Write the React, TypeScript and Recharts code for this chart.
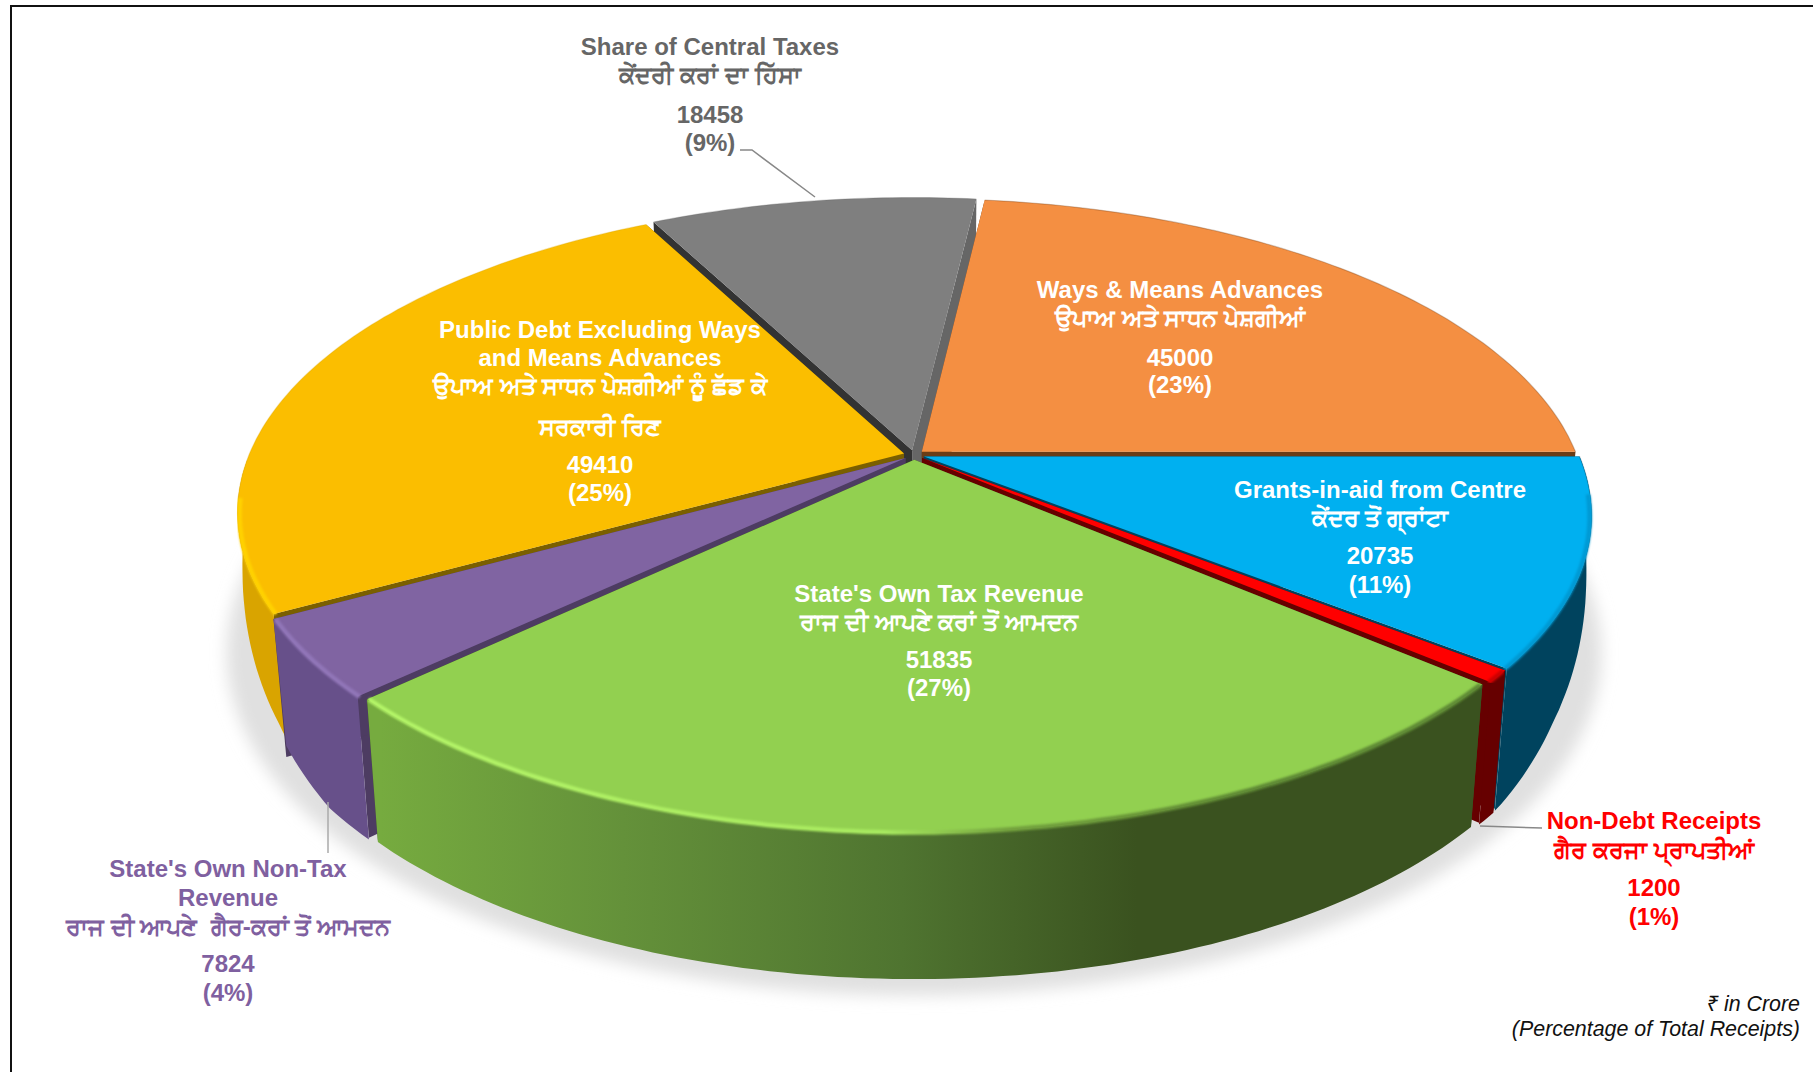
import React from 'react';
import { PieChart, Pie } from 'recharts';

const SLICE_NAMES = [
    'Share of Central Taxes',
    'Ways & Means Advances',
    'Grants-in-aid from Centre',
    'Non-Debt Receipts',
    "State's Own Tax Revenue",
    "State's Own Non-Tax Revenue",
    'Public Debt Excluding Ways and Means Advances',
];
const SLICE_VALUES = [18458, 45000, 20735, 1200, 51835, 7824, 49410];
const SLICE_SHARES = ['(9%)', '(23%)', '(11%)', '(1%)', '(27%)', '(4%)', '(25%)'];
const NAME_LINES = [
    ['Share of Central Taxes', 'ਕੇਂਦਰੀ ਕਰਾਂ ਦਾ ਹਿੱਸਾ'],
    ['Ways & Means Advances', 'ਉਪਾਅ ਅਤੇ ਸਾਧਨ ਪੇਸ਼ਗੀਆਂ'],
    ['Grants-in-aid from Centre', 'ਕੇਂਦਰ ਤੋਂ ਗ੍ਰਾਂਟਾ'],
    ['Non-Debt Receipts', 'ਗੈਰ ਕਰਜਾ ਪ੍ਰਾਪਤੀਆਂ'],
    ["State's Own Tax Revenue", 'ਰਾਜ ਦੀ ਆਪਣੇ ਕਰਾਂ ਤੋਂ ਆਮਦਨ'],
    ["State's Own Non-Tax", 'Revenue', 'ਰਾਜ ਦੀ ਆਪਣੇ  ਗੈਰ-ਕਰਾਂ ਤੋਂ ਆਮਦਨ'],
    ['Public Debt Excluding Ways', 'and Means Advances', 'ਉਪਾਅ ਅਤੇ ਸਾਧਨ ਪੇਸ਼ਗੀਆਂ ਨੂੰ ਛੱਡ ਕੇ', 'ਸਰਕਾਰੀ ਰਿਣ'],
];
const UNIT_NOTES = ['₹ in Crore', '(Percentage of Total Receipts)'];

// painter's order, back of the pie first
const DRAW_ORDER = [0, 1, 6, 2, 5, 3, 4];

const TOP_COLORS = ['#7f7f7f', '#f48f42', '#00b0f0', '#ff0000', '#92d050', '#8064a2', '#fbbe00'];
const WALL_COLORS = ['#666666', '#6b3d17', '#00435e', '#660000', '#3a521f', '#67508a', '#d9a400'];
const START_WALL_COLORS = ['#333333', '#6b3d17', '#00435e', '#660000', '#3a521f', '#4d3c62', '#7a5f00'];
const END_WALL_COLORS = ['#666666', '#6b3d17', '#00435e', '#660000', '#3a521f', '#4d3c62', '#7a5f00'];
const RIM_COLORS = ['#7f7f7f', '#d9813c', '#009ad4', '#cc0000', '#5f8a34', '#9176b8', '#ffd200'];
const LABEL_COLORS = ['#666666', '#ffffff', '#ffffff', '#ff0000', '#ffffff', '#7f60a0', '#ffffff'];
const LABEL_X = [710, 1180, 1380, 1654, 939, 228, 600];
const LABEL_YS = [
    [46, 74, 114, 142],
    [289, 317, 357, 384],
    [489, 517, 555, 584],
    [820, 849, 887, 916],
    [593, 621, 659, 687],
    [868, 897, 926, 963, 992],
    [329, 357, 385, 426, 464, 492],
];

const CX = 914;
const CY = 455;
const RADIUS = 655;
const TILT = 301.5;
const PERSPECTIVE = 0.1865;
const EXPLODE = 0.016;
const START_ANGLE = 117.5;
const FONT = '"Liberation Sans", Arial, "Noto Sans", sans-serif';

const pieData = SLICE_NAMES.map((name, i) => ({ name, value: SLICE_VALUES[i] }));
const shadowData = [{ name: 'shadow', value: SLICE_VALUES.reduce((a, b) => a + b, 0) }];

// unit-disc point to screen, on the top face
const project = (cx: number, cy: number, r: number, x: number, y: number) => {
    const k = 1 / (1 + PERSPECTIVE * y);
    return [cx + r * x * k, cy - TILT * y * k];
};

// bottom edge of a wall under a top-face point: straight walls for the radial sides
const dropRadial = (cx: number, p: number[], y: number) => [cx + (p[0] - cx) * 0.98, p[1] + 130 - 16 * y];

// the outer wall gets shallower towards the sides of the pie
const dropOuter = (cx: number, p: number[], y: number) => {
    const front = Math.max(0, -y);
    const drop = front > 0.62 ? 142 + (front - 0.62) * 10.5 : 142 * Math.sqrt(front / 0.62);
    const shrink = 0.02 * Math.min(1, front / 0.45);
    return [cx + (p[0] - cx) * (1 - shrink), p[1] + drop];
};

const toPath = (points: number[][], close = true) =>
    points.map((p, i) => `${i ? 'L' : 'M'}${p[0].toFixed(1)} ${p[1].toFixed(1)}`).join(' ') + (close ? ' Z' : '');

const Slice3D = (props: any) => {
    const { cx, cy, outerRadius, startAngle, endAngle, name } = props;
    const i = SLICE_NAMES.indexOf(name);
    const midRad = ((startAngle + endAngle) / 2) * Math.PI / 180;
    const ox = EXPLODE * Math.cos(midRad);
    const oy = EXPLODE * Math.sin(midRad);
    const unitY = (angle: number, rr = 1) => oy + rr * Math.sin(angle * Math.PI / 180);
    const at = (angle: number, rr = 1) =>
        project(cx, cy, outerRadius, ox + rr * Math.cos(angle * Math.PI / 180), unitY(angle, rr));
    const steps = Math.max(2, Math.ceil(Math.abs(startAngle - endAngle)));
    const angles = Array.from({ length: steps + 1 }, (_, s) => startAngle + (endAngle - startAngle) * s / steps);
    const frontAngles = angles.filter(a => unitY(a) < 0);
    const rimAngles = frontAngles.filter(a => unitY(a) < -0.12);

    const apexTop = project(cx, cy, outerRadius, ox, oy);
    const apexBottom = dropRadial(cx, apexTop, oy);
    const top = [apexTop, ...angles.map(a => at(a))];
    const startWall = [apexTop, at(startAngle), dropRadial(cx, at(startAngle), unitY(startAngle)), apexBottom];
    const endWall = [apexTop, at(endAngle), dropRadial(cx, at(endAngle), unitY(endAngle)), apexBottom];
    const wall = [
        ...frontAngles.map(a => at(a)),
        ...frontAngles.slice().reverse().map(a => dropOuter(cx, at(a), unitY(a))),
    ];
    const rim = rimAngles.map(a => {
        const p = at(a, 0.997);
        return [p[0], p[1] + 1];
    });
    const edge = angles.map(a => at(a));

    const isGreen = i === 4;
    return (
        <g>
            <defs>
                <linearGradient id="greenWall" gradientUnits="userSpaceOnUse" x1="380" y1="0" x2="1250" y2="0">
                    <stop offset="0" stopColor="#76ab3f" />
                    <stop offset="0.28" stopColor="#64913a" />
                    <stop offset="0.6" stopColor="#4f7430" />
                    <stop offset="0.87" stopColor="#3a521f" />
                </linearGradient>
                <linearGradient id="greenRim" gradientUnits="userSpaceOnUse" x1="380" y1="0" x2="1250" y2="0">
                    <stop offset="0" stopColor="#b4f568" />
                    <stop offset="0.58" stopColor="#a8ea60" />
                    <stop offset="0.72" stopColor="#74a33e" />
                    <stop offset="1" stopColor="#5f8a34" />
                </linearGradient>
                <filter id="rimBlur" x="-5%" y="-5%" width="110%" height="110%">
                    <feGaussianBlur stdDeviation="1" />
                </filter>
            </defs>
            <path d={toPath(startWall)} fill={START_WALL_COLORS[i]} />
            <path d={toPath(endWall)} fill={END_WALL_COLORS[i]} />
            {frontAngles.length > 1 && <path d={toPath(wall)} fill={isGreen ? 'url(#greenWall)' : WALL_COLORS[i]} />}
            <path d={toPath(top)} fill={TOP_COLORS[i]} />
            <path d={toPath(edge, false)} fill="none" stroke={WALL_COLORS[i]} strokeOpacity={0.3} strokeWidth={1.2} />
            {rimAngles.length > 1 && (
                <path
                    d={toPath(rim, false)}
                    fill="none"
                    stroke={isGreen ? 'url(#greenRim)' : RIM_COLORS[i]}
                    strokeWidth={4.5}
                    filter="url(#rimBlur)"
                />
            )}
        </g>
    );
};

const PieShadow = (props: any) => {
    const { cx, cy, outerRadius } = props;
    const angles = Array.from({ length: 181 }, (_, s) => s * 2);
    const ring = angles.map(a => {
        const rad = a * Math.PI / 180;
        const y = 1.05 * Math.sin(rad);
        return dropRadial(cx, project(cx, cy, outerRadius, 1.05 * Math.cos(rad), y), y);
    });
    return (
        <g>
            <defs>
                <filter id="shadowBlur" x="-10%" y="-10%" width="120%" height="120%">
                    <feGaussianBlur stdDeviation="8" />
                </filter>
            </defs>
            <path d={toPath(ring)} fill="#e0e0e0" filter="url(#shadowBlur)" />
        </g>
    );
};

const App: React.FC = () => {
    return (
        <div style={{ position: 'absolute', left: 0, top: 0, width: 1813, height: 1072, overflow: 'hidden', background: '#fff' }}>
            <div style={{ position: 'absolute', left: 10, top: 5, width: 2000, height: 2000, border: '2px solid #111' }} />
            <div style={{ position: 'absolute', left: 0, top: 0 }}>
                <PieChart width={1813} height={1072} margin={{ top: 0, right: 0, bottom: 0, left: 0 }}>
                    <Pie
                        data={shadowData}
                        dataKey="value"
                        nameKey="name"
                        cx={CX}
                        cy={CY}
                        outerRadius={RADIUS}
                        isAnimationActive={false}
                        shape={(p: any) => <PieShadow {...p} />}
                    />
                    {DRAW_ORDER.map(sliceIndex => (
                        <Pie
                            key={sliceIndex}
                            data={pieData}
                            dataKey="value"
                            nameKey="name"
                            cx={CX}
                            cy={CY}
                            outerRadius={RADIUS}
                            startAngle={START_ANGLE}
                            endAngle={START_ANGLE - 360}
                            stroke="none"
                            isAnimationActive={false}
                            shape={(p: any) => (p.name === SLICE_NAMES[sliceIndex] ? <Slice3D {...p} /> : <g />)}
                        />
                    ))}
                </PieChart>
            </div>
            <svg width={1813} height={1072} style={{ position: 'absolute', left: 0, top: 0 }}>
                <polyline points="740,150 752,150 815,197" fill="none" stroke="#888" strokeWidth={1.5} />
                <polyline points="1480,826 1542,828" fill="none" stroke="#888" strokeWidth={1.5} />
                <polyline points="328,802 328,853" fill="none" stroke="#aaa" strokeWidth={1.5} />
                {SLICE_NAMES.map((_, i) => {
                    const lines = [...NAME_LINES[i], String(SLICE_VALUES[i]), SLICE_SHARES[i]];
                    return lines.map((line, j) => (
                        <text
                            key={`${i}-${j}`}
                            x={LABEL_X[i]}
                            y={LABEL_YS[i][j]}
                            textAnchor="middle"
                            dominantBaseline="central"
                            fontFamily={FONT}
                            fontWeight="bold"
                            fontSize={/[\u0A00-\u0A7F]/.test(line) ? 24.2 : 24}
                            fill={LABEL_COLORS[i]}
                            style={{ whiteSpace: 'pre' }}
                        >
                            {line}
                        </text>
                    ));
                })}
                {UNIT_NOTES.map((note, i) => (
                    <text
                        key={note}
                        x={1800}
                        y={1004 + i * 25}
                        textAnchor="end"
                        dominantBaseline="central"
                        fontFamily={FONT}
                        fontStyle="italic"
                        fontSize={21.4}
                        fill="#111"
                    >
                        {note}
                    </text>
                ))}
            </svg>
        </div>
    );
};

export default App;
